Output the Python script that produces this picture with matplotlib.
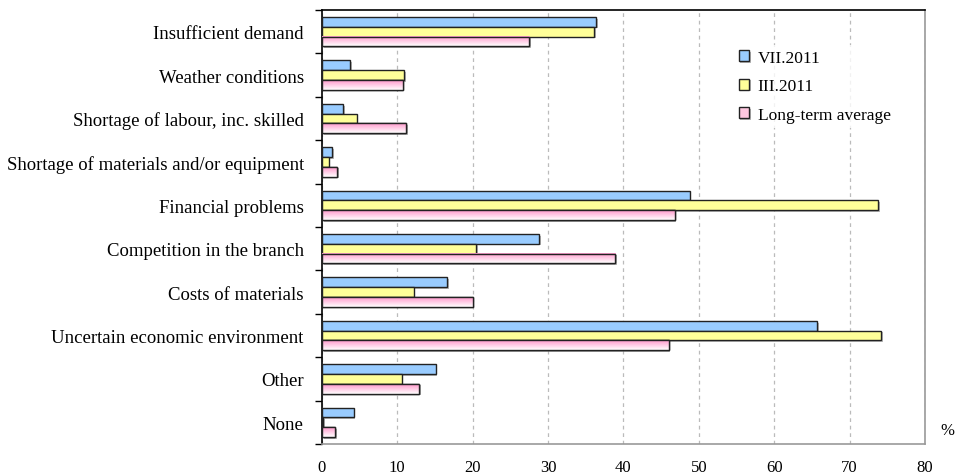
import numpy as np
import matplotlib; matplotlib.use("Agg"); import matplotlib.pyplot as plt
from matplotlib import patheffects as pe
from matplotlib.colors import LinearSegmentedColormap

plt.rcParams['font.family'] = ['Liberation Serif', 'DejaVu Serif']

categories = ["Insufficient demand", "Weather conditions", "Shortage of labour, inc. skilled",
              "Shortage of materials and/or equipment", "Financial problems", "Competition in the branch",
              "Costs of materials", "Uncertain economic environment", "Other", "None"]
vii_2011 = [36.4, 3.8, 2.8, 1.4, 48.8, 28.8, 16.6, 65.7, 15.1, 4.2]
iii_2011 = [36.1, 10.9, 4.6, 0.9, 73.8, 20.5, 12.2, 74.2, 10.6, 0.2]
long_avg = [27.5, 10.7, 11.2, 2.0, 46.8, 38.9, 20.0, 46.0, 12.9, 1.8]
series_names = ["VII.2011", "III.2011", "Long-term average"]
x_ticks = [0, 10, 20, 30, 40, 50, 60, 70, 80]

fig = plt.figure(figsize=(9.55, 4.77), dpi=100)
ax = fig.add_axes([0.337, 0.067, 0.6316, 0.91])

n = len(categories)
y = np.arange(n)
h = 0.225
shadow = [pe.SimplePatchShadow(offset=(1.2, -1.2), shadow_rgbFace="#888888", alpha=0.6), pe.Normal()]
b1 = ax.barh(y - h, vii_2011, height=h, color="#99CCFF", edgecolor="#222222", lw=1.0, zorder=3, path_effects=shadow)
b2 = ax.barh(y, iii_2011, height=h, color="#FFFF99", edgecolor="#222222", lw=1.0, zorder=3, path_effects=shadow)
b3 = ax.barh(y + h, long_avg, height=h, color="#FFC8E0", edgecolor="#222222", lw=1.0, zorder=3, path_effects=shadow)

# pink gradient fill (pink at top -> white at bottom), then outline on top
cmap = LinearSegmentedColormap.from_list("pk", ["#FF99CC", "#FFFFFF"])
grad = np.linspace(0, 1, 50).reshape(-1, 1)
for p in b3:
    x0, y0 = p.get_x(), p.get_y()
    w, hh = p.get_width(), p.get_height()
    ax.imshow(grad, cmap=cmap, aspect="auto", extent=(x0, x0 + w, y0 + hh, y0), zorder=3.2, interpolation="bilinear")
ax.barh(y + h, long_avg, height=h, fill=False, edgecolor="#222222", lw=1.0, zorder=3.4)

ax.set_ylim(n - 0.5, -0.5)
ax.set_xlim(0, 80)
ax.set_xticks(x_ticks)
ax.set_yticks(y)
ax.set_yticklabels(categories, fontsize=13.5)
ax.set_yticks(np.arange(n + 1) - 0.5, minor=True)
ax.tick_params(axis="y", which="major", length=0, pad=13)
ax.tick_params(axis="y", which="minor", length=5, width=1, color="black", direction="out")
ax.tick_params(axis="x", length=0, pad=11, labelsize=12)
ax.grid(axis="x", color="#BBBBBB", ls=(0, (3, 3)), lw=0.9, zorder=0)
ax.set_axisbelow(True)
for s in ("left", "top"):
    ax.spines[s].set_color("black"); ax.spines[s].set_linewidth(1.2)
for s in ("right", "bottom"):
    ax.spines[s].set_color("#999999"); ax.spines[s].set_linewidth(1.2)

fig.text(0.9915, 0.097, "%", fontsize=12, ha="center", va="center")

leg = ax.legend([b1, b2, b3], series_names, loc="upper left", bbox_to_anchor=(0.668, 0.94),
                frameon=True, fontsize=12.5, handlelength=0.6, handleheight=0.6, labelspacing=0.72,
                handletextpad=0.5, borderpad=0.3, fancybox=False)
leg.get_frame().set_facecolor("white")
leg.get_frame().set_edgecolor("none")
leg.set_zorder(5)

fig.savefig("out.png", dpi=100)
